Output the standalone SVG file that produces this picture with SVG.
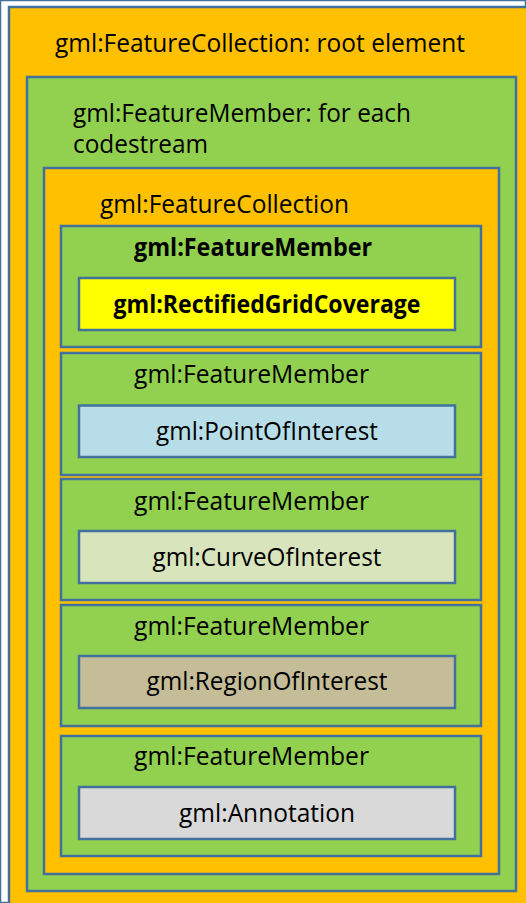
<svg xmlns="http://www.w3.org/2000/svg" width="526" height="903" viewBox="0 0 526 903">
<style>
rect{stroke:#41719C;stroke-width:2.5}
.or{fill:#FFC000}
.gr{fill:#92D050}
text{font-family:"Open Sans","Liberation Sans",sans-serif;font-size:25px;fill:#000}
.b{font-weight:bold}
.c{text-anchor:middle}
</style>
<rect width="526" height="903" fill="#FFFFFF" stroke="none"/>
<g id="root">
<rect class="or" x="9" y="7" width="530" height="910"/>
<text x="55" y="52" textLength="410" lengthAdjust="spacingAndGlyphs">gml:FeatureCollection: root element</text>
</g>
<g id="member-codestream">
<rect class="gr" x="27" y="77" width="489" height="814"/>
<text x="73" y="122" textLength="338" lengthAdjust="spacingAndGlyphs">gml:FeatureMember: for each</text>
<text x="73" y="153" textLength="135" lengthAdjust="spacingAndGlyphs">codestream</text>
</g>
<g id="collection">
<rect class="or" x="44" y="168" width="455" height="706"/>
<text x="100" y="213" textLength="249" lengthAdjust="spacingAndGlyphs">gml:FeatureCollection</text>
</g>
<g id="fm1">
<rect class="gr" x="61" y="226" width="420" height="121"/>
<text class="b" x="134" y="256" textLength="238" lengthAdjust="spacingAndGlyphs">gml:FeatureMember</text>
</g>
<g id="rectified">
<rect x="79" y="278" width="376" height="52" fill="#FFFF00"/>
<text class="b c" x="267" y="313" textLength="307" lengthAdjust="spacingAndGlyphs">gml:RectifiedGridCoverage</text>
</g>
<g id="fm2">
<rect class="gr" x="61" y="353" width="420" height="122"/>
<text x="134" y="383" textLength="235" lengthAdjust="spacingAndGlyphs">gml:FeatureMember</text>
</g>
<g id="point">
<rect x="79" y="405.5" width="376" height="51.5" fill="#B7DEE8"/>
<text class="c" x="267" y="440" textLength="222" lengthAdjust="spacingAndGlyphs">gml:PointOfInterest</text>
</g>
<g id="fm3">
<rect class="gr" x="61" y="479" width="420" height="121"/>
<text x="134" y="510" textLength="235" lengthAdjust="spacingAndGlyphs">gml:FeatureMember</text>
</g>
<g id="curve">
<rect x="79" y="531" width="376" height="52" fill="#D8E4BC"/>
<text class="c" x="267" y="566" textLength="229" lengthAdjust="spacingAndGlyphs">gml:CurveOfInterest</text>
</g>
<g id="fm4">
<rect class="gr" x="61" y="605" width="420" height="121"/>
<text x="134" y="635" textLength="235" lengthAdjust="spacingAndGlyphs">gml:FeatureMember</text>
</g>
<g id="region">
<rect x="79" y="656" width="376" height="52" fill="#C4BD97"/>
<text class="c" x="267" y="690" textLength="241" lengthAdjust="spacingAndGlyphs">gml:RegionOfInterest</text>
</g>
<g id="fm5">
<rect class="gr" x="61" y="736" width="420" height="120"/>
<text x="134" y="765" textLength="235" lengthAdjust="spacingAndGlyphs">gml:FeatureMember</text>
</g>
<g id="annotation">
<rect x="79" y="787" width="376" height="52" fill="#D9D9D9"/>
<text class="c" x="267" y="822" textLength="176" lengthAdjust="spacingAndGlyphs">gml:Annotation</text>
</g>
<g id="connectors"/>
</svg>
